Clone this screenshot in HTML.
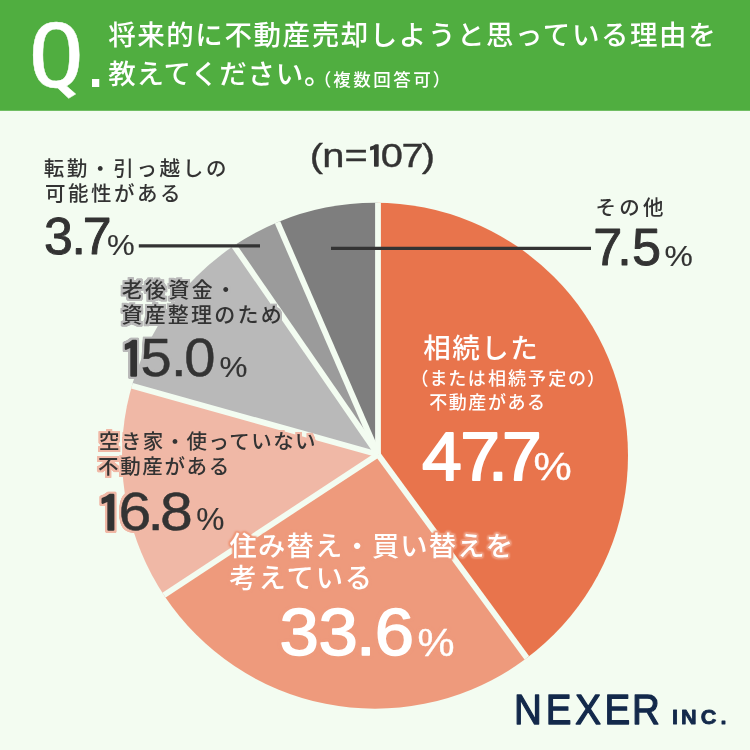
<!DOCTYPE html>
<html lang="ja">
<head>
<meta charset="utf-8">
<title>将来的に不動産売却しようと思っている理由</title>
<style>
html,body{margin:0;padding:0;background:#f3fcf1;}
body{width:750px;height:750px;overflow:hidden;}
svg{display:block;}
text{font-family:"Liberation Sans","Noto Sans CJK JP",sans-serif;stroke-width:0;stroke-linejoin:round;}
.jp{font-family:"Liberation Sans","Noto Sans CJK JP",sans-serif;font-weight:500;}
.num{font-family:"Liberation Sans",sans-serif;font-weight:400;}
.mono{font-family:"DejaVu Sans Mono","Liberation Mono",monospace;font-weight:400;}
.palt{font-feature-settings:"palt";}
.b{font-weight:700;}
.dk{fill:#333333;stroke:#333333;}
.wh{fill:#fff;stroke:#fff;}
.nv{fill:#13294b;stroke:#13294b;}
.hg{filter:url(#hg);}
.hp{filter:url(#hp);}
.hs{filter:url(#hs);}
</style>
</head>
<body>
<svg width="750" height="750" viewBox="0 0 750 750" role="img" aria-label="将来的に不動産売却しようと思っている理由（円グラフ）">
<defs>
<clipPath id="pc"><circle cx="375.0" cy="455.7" r="253.0"/></clipPath>
<filter id="hg" x="-10%" y="-30%" width="120%" height="160%" color-interpolation-filters="sRGB">
<feMorphology in="SourceAlpha" operator="dilate" radius="1.7" result="d"/>
<feGaussianBlur in="d" stdDeviation="0.7" result="b"/>
<feComponentTransfer in="b" result="b2"><feFuncA type="linear" slope="1.5"/></feComponentTransfer>
<feFlood flood-color="#b9b9b9" result="c"/>
<feComposite in="c" in2="b2" operator="in" result="h"/>
<feMerge><feMergeNode in="h"/><feMergeNode in="SourceGraphic"/></feMerge>
</filter>
<filter id="hp" x="-10%" y="-30%" width="120%" height="160%" color-interpolation-filters="sRGB">
<feMorphology in="SourceAlpha" operator="dilate" radius="1.7" result="d"/>
<feGaussianBlur in="d" stdDeviation="0.7" result="b"/>
<feComponentTransfer in="b" result="b2"><feFuncA type="linear" slope="1.5"/></feComponentTransfer>
<feFlood flood-color="#f0b8a6" result="c"/>
<feComposite in="c" in2="b2" operator="in" result="h"/>
<feMerge><feMergeNode in="h"/><feMergeNode in="SourceGraphic"/></feMerge>
</filter>
<filter id="hs" x="-10%" y="-30%" width="120%" height="160%" color-interpolation-filters="sRGB">
<feMorphology in="SourceAlpha" operator="dilate" radius="1" result="d"/>
<feGaussianBlur in="d" stdDeviation="1.3" result="b"/>
<feComponentTransfer in="b" result="b2"><feFuncA type="linear" slope="2.4"/></feComponentTransfer>
<feFlood flood-color="#ee9a7c" result="c"/>
<feComposite in="c" in2="b2" operator="in" result="h"/>
<feMerge><feMergeNode in="h"/><feMergeNode in="SourceGraphic"/></feMerge>
</filter>
</defs>
<rect width="750" height="750" fill="#f3fcf1"/>
<rect width="750" height="110.8" fill="#50ae40"/>
<g clip-path="url(#pc)">
<path d="M378.0 454.5 L378.00 34.50 A420 420 0 0 1 626.05 793.42 Z" fill="#e8744c"/>
<path d="M378.0 454.5 L626.05 793.42 A420 420 0 0 1 26.96 685.09 Z" fill="#ee9a7c"/>
<path d="M378.0 454.5 L26.96 685.09 A420 420 0 0 1 -26.53 341.55 Z" fill="#f0b8a6"/>
<path d="M378.0 454.5 L-26.53 341.55 A420 420 0 0 1 139.51 108.78 Z" fill="#b9b9b9"/>
<path d="M378.0 454.5 L139.51 108.78 A420 420 0 0 1 211.20 69.04 Z" fill="#9b9b9b"/>
<path d="M378.0 454.5 L211.20 69.04 A420 420 0 0 1 378.00 34.50 Z" fill="#7e7e7e"/>
<g stroke="#f3fcf1" stroke-width="5.8" stroke-linecap="butt">
<line x1="378.0" y1="454.5" x2="378.00" y2="154.50"/>
<line x1="378.0" y1="454.5" x2="555.18" y2="696.59"/>
<line x1="378.0" y1="454.5" x2="127.26" y2="619.21"/>
<line x1="378.0" y1="454.5" x2="89.05" y2="373.82"/>
<line x1="378.0" y1="454.5" x2="207.65" y2="207.56"/>
<line x1="378.0" y1="454.5" x2="258.86" y2="179.17"/>
</g>
</g>
<g stroke="#333333" stroke-width="3.2"><line x1="138.8" y1="245.8" x2="260" y2="245.8"/><line x1="331" y1="248.3" x2="591" y2="248.3"/></g>
<text id="q" class="mono wh" transform="translate(27.8 87.2) scale(1.0800 1)" style="font-size:87.4px;letter-spacing:0px;stroke-width:0.4px">Q</text>
<text id="qd" class="num wh b" transform="translate(88.5 87) scale(0.9602 1)" style="font-size:53.33px;letter-spacing:0px">.</text>
<text id="t1" class="jp wh" x="108.15" y="44.9" style="font-size:27.5px;letter-spacing:1.57px">将来的に不動産売却しようと思っている理由を</text>
<text id="t2" class="jp wh" x="108.15" y="83.75" style="font-size:27.5px;letter-spacing:0.81px">教えてください。</text>
<text id="t3" class="jp wh palt" x="321.9" y="85.65" style="font-size:17.5px;letter-spacing:2.53px">（複数回答可）</text>
<text id="n" class="num dk" transform="scale(1.1878 1)" x="260.87 271.25 290.02 308.48 320.64 338.01 355.12" y="166.6 166.6 166.6 167.64 166.6 166.6 166.6" style="font-size:33.56px;letter-spacing:0px;stroke-width:0.35px">(n=<tspan style="font-family:IPAGothic,&quot;Liberation Sans&quot;,sans-serif;stroke-width:1.4px;font-size:31.38px">1</tspan>07)</text>
<text id="a1" class="jp dk" x="43.7" y="176.25" style="font-size:20.5px;letter-spacing:2.68px">転勤・引っ越しの</text>
<text id="a2" class="jp dk" x="45" y="201.15" style="font-size:20.5px;letter-spacing:2.48px">可能性がある</text>
<text id="a3" class="num dk" transform="scale(1.0131 1)" x="43.31 70.52 81.63" y="253.85" style="font-size:51.18px;letter-spacing:0px;stroke-width:0.9px">3.7</text>
<text id="a4" class="num dk" transform="translate(107.05 254.6) scale(1.0516 1)" style="font-size:29.61px;letter-spacing:0px;stroke-width:0.15px">%</text>
<text id="b1" class="jp dk" x="595.55" y="214.75" style="font-size:20.5px;letter-spacing:3.25px">その他</text>
<text id="b3" class="num dk" transform="scale(1.0111 1)" x="586.75 610.59 625.15" y="265.3" style="font-size:51.68px;letter-spacing:0px;stroke-width:0.9px">7.5</text>
<text id="b4" class="num dk" transform="translate(664.55 266.05) scale(1.0681 1)" style="font-size:29.83px;letter-spacing:0px;stroke-width:0.15px">%</text>
<text id="c1" class="jp wh" x="423.2" y="357.75" style="font-size:27.5px;letter-spacing:1.48px">相続した</text>
<text id="c2" class="jp wh palt" x="418.9" y="384.85" style="font-size:18px;letter-spacing:2.07px">（または相続予定の）</text>
<text id="c2b" class="jp wh" x="429.25" y="409" style="font-size:18px;letter-spacing:1.55px">不動産がある</text>
<text id="c3" class="num wh" transform="scale(1.0382 1)" x="406.42 443.26 470.07 483.57" y="479.6" style="font-size:68.87px;letter-spacing:0px;stroke-width:1.8px">47.7</text>
<text id="c4" class="num wh" transform="translate(533.5 479.8) scale(1.0843 1)" style="font-size:39.59px;letter-spacing:0px;stroke-width:0.4px">%</text>
<text id="d1" class="jp dk hg" x="121.7" y="297.45" style="font-size:21px;letter-spacing:2.36px">老後資金・</text>
<text id="d2" class="jp dk hg" x="121.45" y="321.95" style="font-size:21px;letter-spacing:2.21px">資産整理のため</text>
<text id="d3" class="num dk hg" transform="scale(1.0628 1)" x="112.58 132.23 160.83 173.35" y="378.04 376.25 376.25 376.25" style="font-size:52.77px;letter-spacing:0px;stroke-width:0.45px"><tspan style="font-family:IPAGothic,&quot;Liberation Sans&quot;,sans-serif;stroke-width:2.3px;font-size:49.6px">1</tspan>5.0</text>
<text id="d4" class="num dk hg" transform="translate(219.5 376.75) scale(1.0537 1)" style="font-size:29.84px;letter-spacing:0px;stroke-width:0.15px">%</text>
<text id="e1" class="jp dk hp" x="99" y="448.95" style="font-size:20.5px;letter-spacing:1.4px">空き家・使っていない</text>
<text id="e2" class="jp dk hp" x="98" y="474.2" style="font-size:20.5px;letter-spacing:1.65px">不動産がある</text>
<text id="e3" class="num dk hp" transform="scale(1.1063 1)" x="87 107.03 133.31 144.56" y="531.61 529.8 529.8 529.8" style="font-size:53.25px;letter-spacing:0px;stroke-width:0.45px"><tspan style="font-family:IPAGothic,&quot;Liberation Sans&quot;,sans-serif;stroke-width:2.3px;font-size:50.05px">1</tspan>6.8</text>
<text id="e4" class="num dk hp" transform="translate(196.25 530.45) scale(1.0279 1)" style="font-size:30.83px;letter-spacing:0px;stroke-width:0.15px">%</text>
<text id="f1" class="jp wh hs" x="229.5" y="555.85" style="font-size:27.3px;letter-spacing:1.18px">住み替え・買い替えを</text>
<text id="f2" class="jp wh hs" x="229.25" y="587.8" style="font-size:27.3px;letter-spacing:1.95px">考えている</text>
<text id="f3" class="num wh hs" transform="scale(1.0608 1)" x="263.52 300.3 335.54 353.38" y="654.65" style="font-size:66.64px;letter-spacing:0px;stroke-width:1.5px">33.6</text>
<text id="f4" class="num wh hs" transform="translate(417.55 655.7) scale(1.0873 1)" style="font-size:38.33px;letter-spacing:0px;stroke-width:0.4px">%</text>
<text id="g1" class="num nv" transform="scale(0.9000 1)" x="571.03 606.5 639.31 671.56 702.19" y="724.1" style="font-size:42.81px;letter-spacing:0px;stroke-width:1.3px">NEXER</text>
<text id="g2" class="num nv b" transform="scale(1.1229 1)" x="598.35 606.41 624.13 641.59" y="723.95" style="font-size:19.33px;letter-spacing:0px;stroke-width:0.8px">INC.</text>
</svg>
</body>
</html>
